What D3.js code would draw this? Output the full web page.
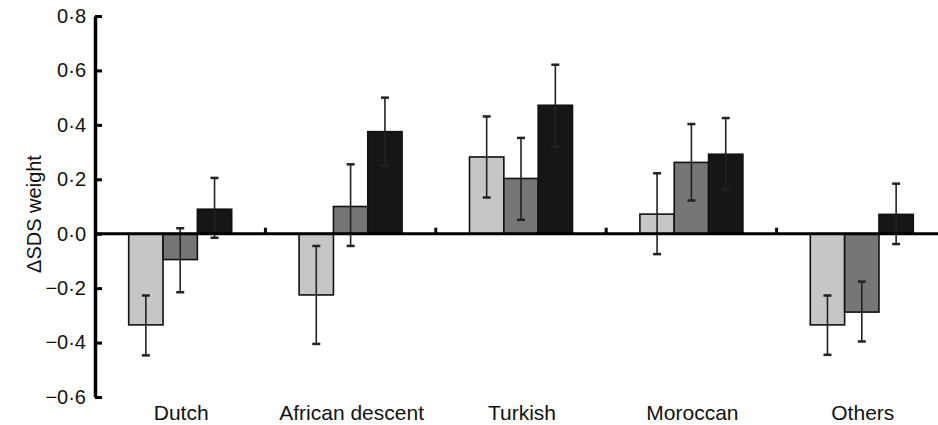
<!DOCTYPE html>
<html>
<head>
<meta charset="utf-8">
<script src="https://cdn.jsdelivr.net/npm/d3@7"></script>
<style>
  body { margin: 0; background: #fff; }
  text { font-family: "Liberation Sans", Arial, sans-serif; fill: #111; }
</style>
</head>
<body>
<div id="chart"></div>
<script>
var svgWidth = 938;
var svgHeight = 425;

// data
var categories = ["Dutch", "African descent", "Turkish", "Moroccan", "Others"];
var series = ["s1", "s2", "s3"];
var means = [
  [-0.335, -0.095, 0.09],
  [-0.225, 0.10, 0.375],
  [0.282, 0.203, 0.472],
  [0.072, 0.262, 0.292],
  [-0.335, -0.288, 0.071]
];
var lower = [
  [-0.447, -0.215, -0.015],
  [-0.405, -0.045, 0.250],
  [0.133, 0.051, 0.319],
  [-0.075, 0.122, 0.162],
  [-0.445, -0.396, -0.038]
];
var upper = [
  [-0.227, 0.020, 0.205],
  [-0.045, 0.255, 0.500],
  [0.431, 0.352, 0.621],
  [0.222, 0.403, 0.425],
  [-0.227, -0.176, 0.184]
];
var yTicks = [-0.6, -0.4, -0.2, 0, 0.2, 0.4, 0.6, 0.8];
var colors = ["#c6c6c6", "#767676", "#161616"];

var margin = { top: 16, left: 95 };
var plotBottom = 397;

var svg = d3.select("#chart")
  .append("svg")
  .attr("width", svgWidth)
  .attr("height", svgHeight);

var y = d3.scaleLinear()
  .domain([-0.6, 0.8])
  .range([plotBottom, margin.top]);

var x = d3.scaleBand()
  .domain(categories)
  .range([margin.left, margin.left + 5 * 170.4]);

var xInner = d3.scaleBand()
  .domain(series)
  .range([0, 103])
  .padding(0);

function fmt(v) {
  var s = Math.abs(v).toFixed(1).replace(".", "\u00B7");
  return (v < 0 ? "\u2212" : "") + s;
}

// bars
var groups = svg.selectAll(".grp")
  .data(categories)
  .enter()
  .append("g")
  .attr("transform", d => `translate(${x(d) + x.bandwidth() / 2 - 51.5}, 0)`);

groups.each(function (cat, ci) {
  var g = d3.select(this);
  series.forEach(function (s, si) {
    var v = means[ci][si];
    g.append("rect")
      .attr("x", xInner(s))
      .attr("y", y(Math.max(0, v)))
      .attr("width", xInner.bandwidth())
      .attr("height", Math.abs(y(v) - y(0)))
      .attr("fill", colors[si])
      .attr("stroke", "#111")
      .attr("stroke-width", 1.6);
  });
});

// zero line
svg.append("line")
  .attr("x1", margin.left)
  .attr("x2", svgWidth)
  .attr("y1", y(0))
  .attr("y2", y(0))
  .attr("stroke", "#000")
  .attr("stroke-width", 3);

// category separator ticks
svg.selectAll(".ctick")
  .data(categories.slice(1))
  .enter()
  .append("line")
  .attr("x1", d => x(d))
  .attr("x2", d => x(d))
  .attr("y1", y(0))
  .attr("y2", y(0) - 6)
  .attr("stroke", "#000")
  .attr("stroke-width", 3);

// error bars
groups.each(function (cat, ci) {
  var g = d3.select(this);
  series.forEach(function (s, si) {
    var cx = xInner(s) + xInner.bandwidth() / 2;
    g.append("line")
      .attr("x1", cx).attr("x2", cx)
      .attr("y1", y(lower[ci][si])).attr("y2", y(upper[ci][si]))
      .attr("stroke", "#222").attr("stroke-width", 1.6);
    [lower[ci][si], upper[ci][si]].forEach(function (e) {
      g.append("line")
        .attr("x1", cx - 4).attr("x2", cx + 4)
        .attr("y1", y(e)).attr("y2", y(e))
        .attr("stroke", "#222").attr("stroke-width", 2.5);
    });
  });
});

// left axis
var leftAxis = d3.axisLeft(y)
  .tickValues(yTicks)
  .tickSize(-7)
  .tickSizeOuter(0)
  .tickFormat(fmt);

var axisG = svg.append("g")
  .attr("transform", `translate(${margin.left}, 0)`)
  .call(leftAxis);
axisG.select(".domain").attr("stroke", "#000").attr("stroke-width", 3.5);
axisG.selectAll(".tick line").attr("stroke", "#000").attr("stroke-width", 3);
axisG.selectAll(".tick text")
  .attr("x", -9)
  .attr("font-size", 20)
  .attr("font-family", "Liberation Sans, Arial, sans-serif")
  .attr("fill", "#111");

// category labels
svg.selectAll(".clabel")
  .data(categories)
  .enter()
  .append("text")
  .attr("x", d => x(d) + x.bandwidth() / 2 + 1)
  .attr("y", 420)
  .attr("text-anchor", "middle")
  .attr("font-size", 21)
  .text(d => d);

// y title
svg.append("text")
  .attr("transform", `translate(41, 214) rotate(-90)`)
  .attr("text-anchor", "middle")
  .attr("font-size", 20)
  .text("\u0394SDS weight");
</script>
</body>
</html>
